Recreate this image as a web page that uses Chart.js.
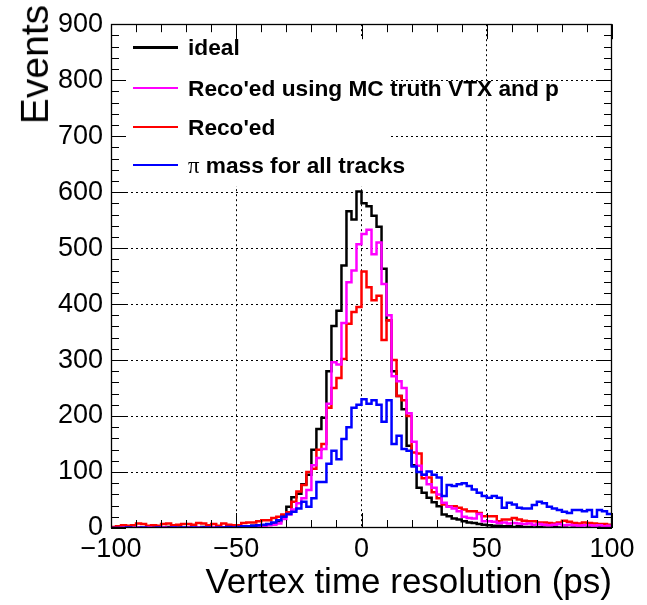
<!DOCTYPE html>
<html>
<head>
<meta charset="utf-8">
<script src="https://cdn.jsdelivr.net/npm/chart.js@4.4.0/dist/chart.umd.min.js"></script>
<style>
  body { margin: 0; background: #fff; }
  #wrap { position: relative; width: 647px; height: 605px; font-family: "Liberation Sans", Arial, sans-serif; color: #000; }
  #chart { position: absolute; left: 0; top: 0; }
  .title { position: absolute; font-size: 35px; line-height: 35px; white-space: nowrap; }
  #ytitle { left: 15px; top: 5px; font-size: 39px; line-height: 39px; writing-mode: vertical-rl; transform: rotate(180deg); }
  #xtitle { right: 35px; top: 563px; }
  .entry { position: absolute; left: 112px; height: 30px; font-weight: bold; font-size: 22.7px; white-space: nowrap; }
  .entry .swatch { position: absolute; left: 21px; width: 45px; top: 14px; height: 0; border-top: 3px solid; }
  .entry .label { position: absolute; left: 76px; top: 2px; line-height: 26px; }
  .pi { font-family: "Liberation Serif", serif; font-weight: normal; }
</style>
</head>
<body>
<div id="wrap">
  <canvas id="chart" width="647" height="605"></canvas>
  <div class="title" id="ytitle">Events</div>
  <div class="title" id="xtitle">Vertex time resolution (ps)</div>
  <div class="entry" style="top:32px"><span class="swatch" style="border-color:#000"></span><span class="label">ideal</span></div>
  <div class="entry" style="top:73px"><span class="swatch" style="border-color:#ff00ff;border-top-width:2px"></span><span class="label">Reco'ed using MC truth VTX and p</span></div>
  <div class="entry" style="top:112px"><span class="swatch" style="border-color:#ff0000;border-top-width:2px"></span><span class="label">Reco'ed</span></div>
  <div class="entry" style="top:150px"><span class="swatch" style="border-color:#0000ff;border-top-width:2px"></span><span class="label"><span class="pi">π</span> mass for all tracks</span></div>
</div>
<script>
// histogram binning: 100 bins of 2 ps from -100 to 100
const X_MIN = -100;
const X_MAX = 100;
const BIN_W = 2;

const xTickLabels = [-100, -50, 0, 50, 100];
const yTickLabels = [0, 100, 200, 300, 400, 500, 600, 700, 800, 900];

// bin contents, left to right
const ideal = [
    0, 1, 0, 1, 0, 1, 0, 0, 1, 0, 1, 2, 0, 1, 0, 1, 0, 1, 2, 1, 0, 1, 1, 2, 1,
    2, 3, 3, 4, 5, 5, 6, 8, 12, 22, 38, 55, 61, 78, 95, 140, 177, 197, 280, 361, 388, 469, 566, 551, 601,
    580, 575, 558, 538, 463, 371, 280, 236, 212, 147, 112, 72, 63, 54, 46, 39, 24, 21, 17, 15, 12, 10, 9, 7, 6,
    5, 4, 4, 3, 3, 2, 3, 2, 2, 1, 2, 1, 1, 2, 1, 1, 0, 1, 1, 0, 1, 0, 1, 0, 1
];
const mcTruth = [
    0, 0, 1, 0, 0, 1, 0, 1, 0, 0, 1, 0, 1, 0, 0, 1, 0, 1, 0, 1, 1, 0, 1, 1, 0,
    1, 2, 2, 3, 3, 4, 5, 6, 8, 16, 24, 33, 44, 53, 68, 112, 125, 141, 222, 296, 292, 366, 439, 460, 507,
    525, 533, 489, 510, 436, 380, 271, 262, 250, 205, 154, 111, 95, 78, 72, 60, 45, 38, 35, 30, 20, 18, 17, 25, 12,
    12, 11, 9, 10, 8, 9, 8, 7, 8, 6, 7, 6, 5, 6, 7, 5, 6, 5, 4, 5, 5, 4, 5, 3, 4
];
const recoed = [
    2, 3, 5, 4, 5, 8, 7, 4, 5, 4, 7, 8, 5, 6, 7, 7, 6, 9, 8, 5, 7, 4, 8, 6, 5,
    5, 9, 10, 10, 12, 14, 14, 18, 20, 24, 28, 47, 65, 77, 100, 106, 140, 150, 215, 250, 268, 302, 365, 386, 395,
    458, 430, 407, 415, 336, 371, 300, 236, 228, 200, 135, 133, 89, 90, 64, 53, 42, 39, 39, 36, 33, 30, 30, 27, 21,
    21, 21, 12, 15, 15, 18, 15, 13, 12, 12, 10, 10, 9, 8, 10, 13, 11, 9, 8, 10, 9, 8, 7, 7, 6
];
const piMass = [
    0, 0, 0, 1, 0, 0, 1, 0, 0, 1, 0, 0, 1, 0, 1, 0, 1, 0, 1, 1, 0, 1, 1, 2, 1,
    2, 3, 3, 4, 5, 6, 7, 10, 14, 20, 25, 29, 35, 47, 38, 53, 82, 82, 115, 138, 123, 159, 180, 215, 220,
    230, 222, 228, 220, 190, 228, 150, 165, 141, 138, 110, 100, 95, 101, 95, 90, 57, 77, 75, 78, 80, 75, 69, 63, 57,
    54, 57, 54, 36, 45, 42, 36, 35, 35, 41, 47, 44, 38, 35, 32, 29, 27, 32, 32, 30, 32, 20, 32, 30, 25
];

const FONT = '"Liberation Sans", Arial, sans-serif';

// bin contents -> step points at the low edge of each bin, closed at X_MAX
function histPoints(values) {
    const pts = values.map((v, i) => ({ x: X_MIN + i * BIN_W, y: v }));
    pts.push({ x: X_MAX, y: values[values.length - 1] });
    return pts;
}

function histDataset(values, color, order) {
    return {
        data: histPoints(values),
        borderColor: color,
        borderWidth: 2.5,
        pointRadius: 0,
        fill: false,
        stepped: true,
        order: order
    };
}

// white legend box hides the grid behind it, frame and inner ticks on top
const rootFrame = {
    id: 'rootFrame',
    beforeDatasetsDraw(chart) {
        const { ctx } = chart;
        ctx.save();
        ctx.fillStyle = '#fff';
        ctx.fillRect(126, 36, 262, 150);
        ctx.restore();
    },
    afterDatasetsDraw(chart) {
        const { ctx, chartArea: a, scales: { x, y } } = chart;
        ctx.save();
        ctx.strokeStyle = '#000';
        ctx.lineWidth = 1;
        ctx.beginPath();
        for (let v = X_MIN; v <= X_MAX; v += 10) {
            const px = Math.round(x.getPixelForValue(v)) + 0.5;
            const len = v % 50 === 0 ? 15 : 8;
            ctx.moveTo(px, a.bottom); ctx.lineTo(px, a.bottom - len);
            ctx.moveTo(px, a.top); ctx.lineTo(px, a.top + len);
        }
        for (let v = 0; v <= 900; v += 20) {
            const py = Math.round(y.getPixelForValue(v)) + 0.5;
            const len = v % 100 === 0 ? 15 : 8;
            ctx.moveTo(a.left, py); ctx.lineTo(a.left + len, py);
            ctx.moveTo(a.right, py); ctx.lineTo(a.right - len, py);
        }
        ctx.stroke();
        ctx.lineWidth = 1.3;
        ctx.strokeRect(Math.round(a.left) + 0.5, Math.round(a.top) + 0.5,
            Math.round(a.width) - 1, Math.round(a.height) - 1);
        ctx.restore();
    }
};

function gridColor(ctx, lo, hi) {
    const v = ctx.tick && ctx.tick.value;
    return (v === lo || v === hi) ? 'rgba(0,0,0,0)' : '#000';
}

new Chart(document.getElementById('chart'), {
    type: 'line',
    data: {
        datasets: [
            histDataset(ideal, '#000000', 4),
            histDataset(recoed, '#ff0000', 3),
            histDataset(mcTruth, '#ff00ff', 2),
            histDataset(piMass, '#0000ff', 1)
        ]
    },
    options: {
        responsive: false,
        animation: false,
        layout: { padding: { top: 23, right: 35, left: 0, bottom: 0 } },
        plugins: { legend: { display: false }, tooltip: { enabled: false } },
        scales: {
            x: {
                type: 'linear',
                min: X_MIN,
                max: X_MAX,
                afterFit: s => { s.height = 77; },
                afterBuildTicks: s => { s.ticks = xTickLabels.map(v => ({ value: v })); },
                ticks: {
                    padding: 5,
                    maxRotation: 0,
                    color: '#000',
                    font: { family: FONT, size: 27 },
                    callback: v => v < 0 ? '\u2212' + Math.abs(v) : String(v)
                },
                grid: { color: c => gridColor(c, X_MIN, X_MAX), lineWidth: 1, drawTicks: false },
                border: { display: false, dash: [2, 3] }
            },
            y: {
                min: 0,
                max: 900,
                afterFit: s => { s.width = 111; },
                afterBuildTicks: s => { s.ticks = yTickLabels.map(v => ({ value: v })); },
                ticks: {
                    padding: 8,
                    color: '#000',
                    font: { family: FONT, size: 27 }
                },
                grid: { color: c => gridColor(c, 0, 900), lineWidth: 1, drawTicks: false },
                border: { display: false, dash: [2, 3] }
            }
        }
    },
    plugins: [rootFrame]
});
</script>
</body>
</html>
